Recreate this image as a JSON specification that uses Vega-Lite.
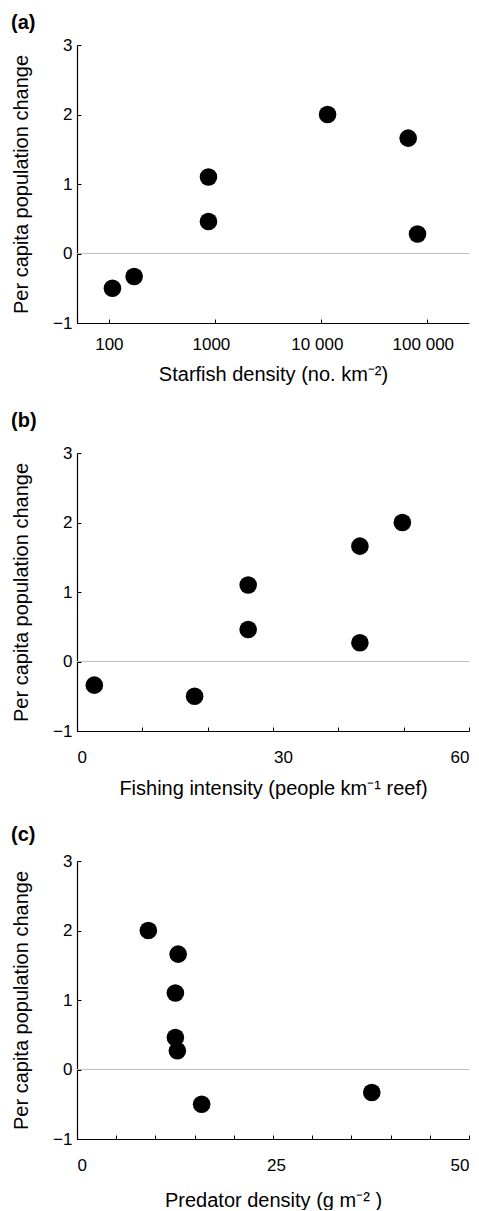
{
  "$schema": "https://vega.github.io/schema/vega-lite/v6.json",
  "padding": {"left": 11, "top": 13, "right": 8, "bottom": 0},
  "background": "white",
  "config": {
    "font": "Liberation Sans",
    "view": {"stroke": null},
    "axis": {"domainColor": "black", "tickColor": "black", "labelColor": "black", "titleColor": "black", "grid": false, "labelFontSize": 17, "titleFontSize": 20, "titleFontWeight": "normal", "tickSize": -4, "domainWidth": 1.2, "tickWidth": 1},
    "title": {"fontSize": 20, "fontWeight": "bold", "anchor": "start", "frame": "group", "color": "black"},
    "concat": {"spacing": 27}
  },
  "datasets": {
    "starfish": [
      {"density": 108, "change": -0.5},
      {"density": 173, "change": -0.33},
      {"density": 870, "change": 1.1},
      {"density": 870, "change": 0.46},
      {"density": 11570, "change": 2.0},
      {"density": 66700, "change": 1.66},
      {"density": 81700, "change": 0.28}
    ],
    "fishing": [
      {"intensity": 2.65, "change": -0.34},
      {"intensity": 18, "change": -0.5},
      {"intensity": 26.2, "change": 1.1},
      {"intensity": 26.2, "change": 0.46},
      {"intensity": 43.3, "change": 1.66},
      {"intensity": 43.3, "change": 0.27},
      {"intensity": 49.8, "change": 2.0}
    ],
    "predator": [
      {"predator": 9.1, "change": 2.0},
      {"predator": 12.9, "change": 1.66},
      {"predator": 12.55, "change": 1.1},
      {"predator": 12.55, "change": 0.46},
      {"predator": 12.8, "change": 0.27},
      {"predator": 15.9, "change": -0.5},
      {"predator": 37.6, "change": -0.33}
    ],
    "zero": [{"v": 0}]
  },
  "vconcat": [
    {
      "title": {"text": "(a)", "dx": -66, "offset": 3},
      "width": 392, "height": 278,
      "layer": [
        {"data": {"name": "zero"}, "mark": {"type": "rule", "color": "#bdbdbd", "strokeWidth": 1.2},
         "encoding": {"y": {"field": "v", "type": "quantitative", "scale": {"domain": [-1, 3], "nice": false}}}},
        {"data": {"name": "starfish"}, "mark": {"type": "circle", "size": 310, "color": "black", "opacity": 1},
         "encoding": {
           "x": {"field": "density", "type": "quantitative", "scale": {"type": "log", "domain": [50, 250000], "nice": false},
                 "axis": {"title": "Starfish density (no. km⁻²)", "values": [100, 1000, 10000, 100000], "labelExpr": "datum.value == 10000 ? '10 000' : datum.value == 100000 ? '100 000' : datum.value == 1000 ? '1000' : '100'",
                          "labelOffset": {"condition": {"test": "datum.value >= 1000", "value": -4}, "value": 0},
                          "labelPadding": 17, "titlePadding": 12}},
           "y": {"field": "change", "type": "quantitative", "scale": {"domain": [-1, 3], "nice": false},
                 "axis": {"title": "Per capita population change", "values": [-1, 0, 1, 2, 3], "format": "d", "labelPadding": 9, "titlePadding": 21}}
         }}
      ]
    },
    {
      "title": {"text": "(b)", "dx": -66, "offset": 13},
      "width": 392, "height": 278,
      "layer": [
        {"data": {"name": "zero"}, "mark": {"type": "rule", "color": "#bdbdbd", "strokeWidth": 1.2},
         "encoding": {"y": {"field": "v", "type": "quantitative", "scale": {"domain": [-1, 3], "nice": false}}}},
        {"data": {"name": "fishing"}, "mark": {"type": "circle", "size": 310, "color": "black", "opacity": 1},
         "encoding": {
           "x": {"field": "intensity", "type": "quantitative", "scale": {"domain": [0, 60], "nice": false},
                 "axis": {"title": "Fishing intensity (people km⁻¹ reef)", "values": [0, 10, 20, 30, 40, 50, 60], "labelExpr": "datum.value % 30 == 0 ? datum.label : ''",
                          "labelOffset": {"condition": {"test": "datum.value == 30", "value": 10}, "value": 0},
                          "labelPadding": 22, "titlePadding": 13}},
           "y": {"field": "change", "type": "quantitative", "scale": {"domain": [-1, 3], "nice": false},
                 "axis": {"title": "Per capita population change", "values": [-1, 0, 1, 2, 3], "format": "d", "labelPadding": 9, "titlePadding": 21}}
         }}
      ]
    },
    {
      "title": {"text": "(c)", "dx": -66, "offset": 7},
      "width": 392, "height": 278,
      "layer": [
        {"data": {"name": "zero"}, "mark": {"type": "rule", "color": "#bdbdbd", "strokeWidth": 1.2},
         "encoding": {"y": {"field": "v", "type": "quantitative", "scale": {"domain": [-1, 3], "nice": false}}}},
        {"data": {"name": "predator"}, "mark": {"type": "circle", "size": 310, "color": "black", "opacity": 1},
         "encoding": {
           "x": {"field": "predator", "type": "quantitative", "scale": {"domain": [0, 50], "nice": false},
                 "axis": {"title": "Predator density (g m⁻² )", "values": [0, 5, 10, 15, 20, 25, 30, 35, 40, 45, 50], "labelExpr": "datum.value % 25 == 0 ? datum.label : ''",
                          "labelOffset": {"condition": {"test": "datum.value == 25", "value": 3}, "value": 0},
                          "labelPadding": 22, "titlePadding": 17}},
           "y": {"field": "change", "type": "quantitative", "scale": {"domain": [-1, 3], "nice": false},
                 "axis": {"title": "Per capita population change", "values": [-1, 0, 1, 2, 3], "format": "d", "labelPadding": 9, "titlePadding": 21}}
         }}
      ]
    }
  ]
}
